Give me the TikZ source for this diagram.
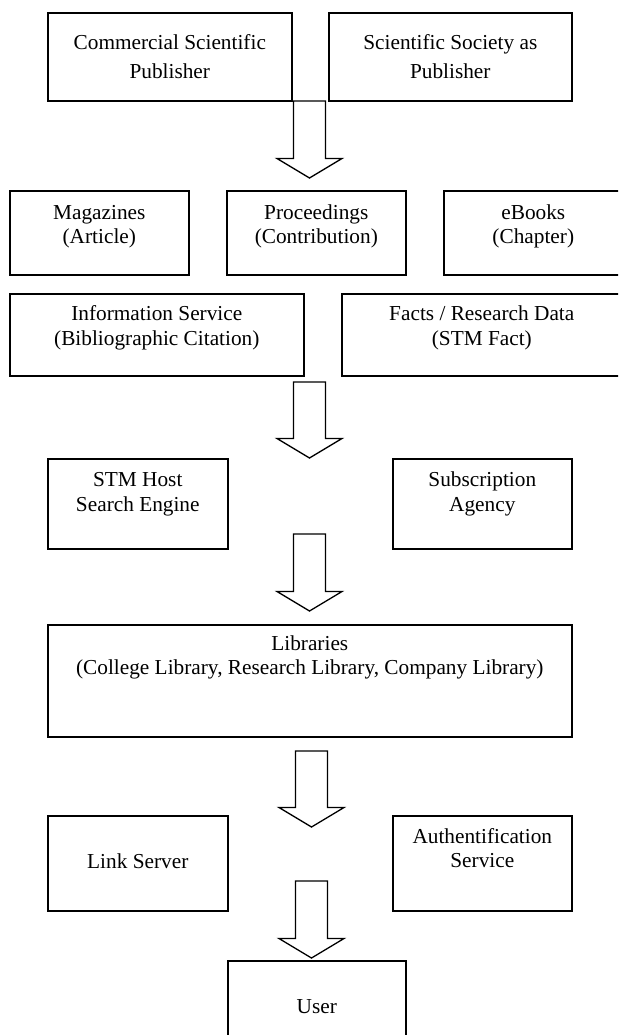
\documentclass[tikz,border=0pt]{standalone}
\usepackage{fontspec}
\setmainfont{Liberation Serif}
\usetikzlibrary{positioning,calc}

\newcommand{\blockarrow}[2]{%
  \draw[flow] ($(#1)+(-16,0)$) -- ($(#1)+(16,0)$) -- ($(#2)+(16,-19.5)$)
    -- ($(#2)+(32.5,-19.5)$) -- (#2) -- ($(#2)+(-32.5,-19.5)$)
    -- ($(#2)+(-16,-19.5)$) -- cycle;}

\begin{document}
\begin{tikzpicture}[x=1pt,y=-1pt,
  box/.style={draw,line width=1.6pt,anchor=north west,inner sep=0pt},
  lbl/.style={align=flush center,text width=500pt,inner sep=0pt,font=\fontsize{21.3}{24.5}\selectfont},
  toplbl/.style={lbl,font=\fontsize{21.3}{29}\selectfont},
  flow/.style={draw,line width=1.3pt,fill=white,line join=miter}]
  \useasboundingbox (0,0) rectangle (618,1035);
  \clip (0,0) rectangle (618,1035);
  % publishers
  \node[box,minimum width=244pt,minimum height=88pt] (comm) at (47,12) {};
  \node[box,minimum width=243pt,minimum height=88pt] (soc) at (328,12) {};
  \node[toplbl,below=16.7pt of comm.north] (commT) {\strut Commercial Scientific\\Publisher};
  \node[toplbl,below=16.7pt of soc.north] (socT) {\strut Scientific Society as\\Publisher};
  % publication types
  \node[box,minimum width=179pt,minimum height=84pt] (mag) at (9,190) {};
  \node[box,minimum width=179pt,minimum height=84pt] (proc) at (226,190) {};
  \node[box,minimum width=179pt,minimum height=84pt] (ebook) at (443,190) {};
  \node[lbl,below=12pt of mag.north] (magT) {\strut Magazines\\(Article)};
  \node[lbl,below=12pt of proc.north] (procT) {\strut Proceedings\\(Contribution)};
  \node[lbl,below=12pt of ebook.north] (ebookT) {\strut eBooks\\(Chapter)};
  \node[box,minimum width=294pt,minimum height=82pt] (info) at (9,293) {};
  \node[box,minimum width=280pt,minimum height=82pt] (facts) at (341,293) {};
  \node[lbl,below=10.5pt of info.north] (infoT) {\strut Information Service\\(Bibliographic Citation)};
  \node[lbl,below=10.5pt of facts.north] (factsT) {\strut Facts / Research Data\\(STM Fact)};
  % intermediaries
  \node[box,minimum width=180pt,minimum height=90pt] (stm) at (47,458) {};
  \node[box,minimum width=179pt,minimum height=90pt] (subs) at (392,458) {};
  \node[lbl,below=11.5pt of stm.north] (stmT) {\strut STM Host\\Search Engine};
  \node[lbl,below=11.5pt of subs.north] (subsT) {\strut Subscription\\Agency};
  \node[box,minimum width=524pt,minimum height=112pt] (libs) at (47,624) {};
  \node[lbl,below=9pt of libs.north] (libsT) {\strut Libraries\\(College Library, Research Library, Company Library)};
  \node[box,minimum width=180pt,minimum height=95pt] (link) at (47,815) {};
  \node[box,minimum width=179pt,minimum height=95pt] (auth) at (392,815) {};
  \node[lbl,below=36pt of link.north] (linkT) {\strut Link Server};
  \node[lbl,below=11pt of auth.north] (authT) {\strut Authentification\\Service};
  \node[box,minimum width=178pt,minimum height=100pt] (user) at (227,960) {};
  \node[lbl,below=36pt of user.north] (userT) {\strut User};
  % flow arrows
  \coordinate (a1) at (309.5,101);  \coordinate (a1e) at (309.5,178);
  \coordinate (a2) at (309.5,382);  \coordinate (a2e) at (309.5,458);
  \coordinate (a3) at (309.5,534);  \coordinate (a3e) at (309.5,611);
  \coordinate (a4) at (311.5,751);  \coordinate (a4e) at (311.5,827);
  \coordinate (a5) at (311.5,881);  \coordinate (a5e) at (311.5,958);
  \blockarrow{a1}{a1e}
  \blockarrow{a2}{a2e}
  \blockarrow{a3}{a3e}
  \blockarrow{a4}{a4e}
  \blockarrow{a5}{a5e}
\end{tikzpicture}
\end{document}
